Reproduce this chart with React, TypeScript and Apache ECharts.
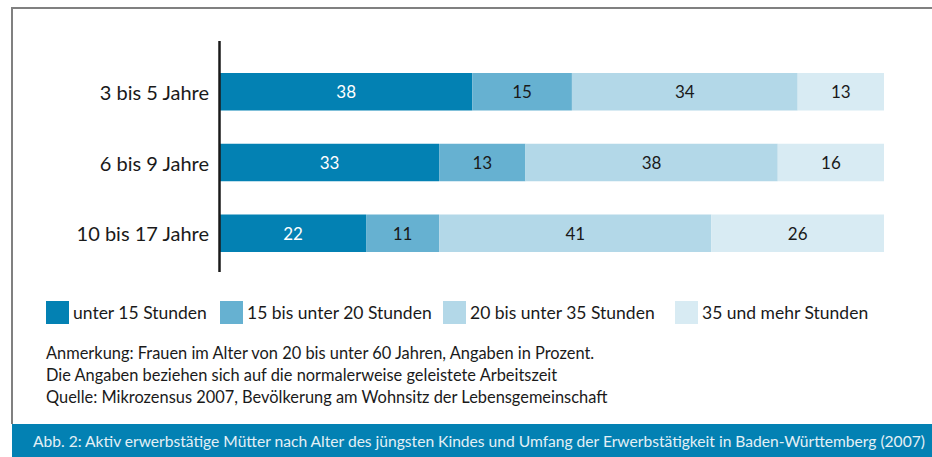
import React, { useEffect, useRef } from "react";
import * as echarts from "echarts";

const categories = ["3 bis 5 Jahre", "6 bis 9 Jahre", "10 bis 17 Jahre"];
const seriesNames = [
  "unter 15 Stunden",
  "15 bis unter 20 Stunden",
  "20 bis unter 35 Stunden",
  "35 und mehr Stunden",
];
const unter15 = [38, 33, 22];
const von15bis20 = [15, 13, 11];
const von20bis35 = [34, 38, 41];
const ab35 = [13, 16, 26];
const notes = [
  "Anmerkung: Frauen im Alter von 20 bis unter 60 Jahren, Angaben in Prozent.",
  "Die Angaben beziehen sich auf die normalerweise geleistete Arbeitszeit",
  "Quelle: Mikrozensus 2007, Bevölkerung am Wohnsitz der Lebensgemeinschaft",
];
const caption =
  "Abb. 2: Aktiv erwerbstätige Mütter nach Alter des jüngsten Kindes und Umfang der Erwerbstätigkeit in Baden-Württemberg (2007)";

const colors = ["#0381b3", "#66b1d1", "#b3d8e8", "#d8ebf3"];
const labelColors = ["#ffffff", "#1a1a1a", "#1a1a1a", "#1a1a1a"];
const FONT = "Lato";

export default function App() {
  const ref = useRef<HTMLDivElement>(null);
  useEffect(() => {
    if (!ref.current) return;
    const chart = echarts.init(ref.current, undefined, { renderer: "svg" });
    const values = [unter15, von15bis20, von20bis35, ab35];
    const legendLefts = [46, 220, 443, 675];
    chart.setOption({
      animation: false,
      color: colors,
      textStyle: { fontFamily: FONT },
      grid: { left: 220, width: 664, top: 56.5, height: 212 },
      xAxis: { type: "value", min: 0, max: 100, show: false },
      yAxis: {
        type: "category",
        data: categories,
        inverse: true,
        axisLine: { show: false },
        axisTick: { show: false },
        axisLabel: { fontSize: 20, color: "#1a1a1a", margin: 11, fontFamily: FONT },
      },
      legend: seriesNames.map((n, i) => ({
        data: [n],
        left: legendLefts[i],
        top: 301,
        itemWidth: 23,
        itemHeight: 23,
        icon: "rect",
        selectedMode: false,
        padding: 0,
        textStyle: { fontSize: 17.5, color: "#1a1a1a", fontFamily: FONT, padding: [0, 0, 0, -1] },
      })),
      series: values.map((v, i) => ({
        name: seriesNames[i],
        type: "bar",
        stack: "total",
        data: v,
        barWidth: 37.5,
        itemStyle: { color: colors[i] },
        label: {
          show: true,
          position: "inside",
          color: labelColors[i],
          fontSize: 17,
          fontFamily: FONT,
        },
      })),
      graphic: [
        { type: "line", shape: { x1: 11, y1: 8, x2: 932, y2: 8 }, style: { stroke: "#808080", lineWidth: 2 } },
        { type: "line", shape: { x1: 12, y1: 7, x2: 12, y2: 424 }, style: { stroke: "#808080", lineWidth: 2 } },
        { type: "line", z: 100, shape: { x1: 219.5, y1: 41, x2: 219.5, y2: 272 }, style: { stroke: "#1a1a1a", lineWidth: 2.5 } },
        ...notes.map((t, i) => ({
          type: "text",
          x: 46,
          y: 352 + i * 22,
          style: { text: t, fontSize: 16.4, fill: "#1a1a1a", fontFamily: FONT, verticalAlign: "middle" },
        })),
        { type: "rect", shape: { x: 12, y: 424, width: 920, height: 33 }, style: { fill: "#0381b3" } },
        {
          type: "text",
          x: 33,
          y: 441,
          style: { text: caption, fontSize: 15.6, fill: "#e3f0f6", fontFamily: FONT, verticalAlign: "middle" },
        },
      ],
    });
    return () => chart.dispose();
  }, []);
  return (
    <div
      ref={ref}
      style={{ position: "fixed", left: 0, top: 0, width: 932, height: 457, background: "#fff" }}
    />
  );
}
